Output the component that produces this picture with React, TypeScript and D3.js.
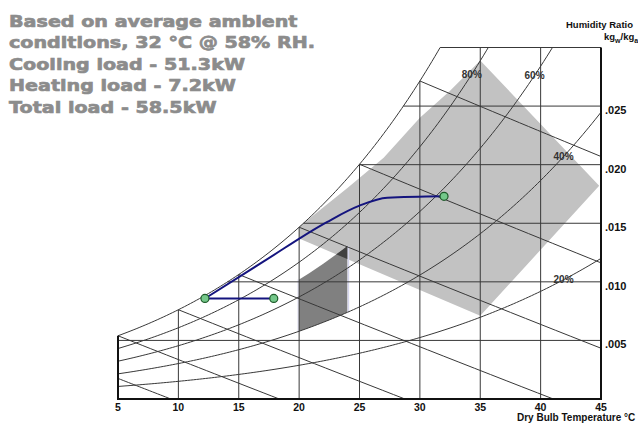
import * as d3 from 'd3'

// chart values
const tempTicks = [5, 10, 15, 20, 25, 30, 35, 40, 45]
const humidityTicks = [0.005, 0.01, 0.015, 0.02, 0.025, 0.03]
const humidityLabels = ['.005', '.010', '.015', '.020', '.025']
const rhCurves = [80, 60, 40, 20]
const rhLabelTemps = [34.3, 39.5, 41.9, 41.9]
const wetBulbTemps = [0, 5, 10, 15, 20, 25, 30]

const noteLines = [
  'Based on average ambient',
  'conditions, 32 °C @ 58% RH.',
  'Cooling load - 51.3kW',
  'Heating load - 7.2kW',
  'Total load - 58.5kW',
]

// light grey zone (dry bulb °C, humidity ratio)
const zoneT = [20, 20, 24, 27, 30, 32.5, 35, 44.85, 35]
const zoneW = [0.0137, 0.0147, 0.018, 0.0206, 0.024, 0.0263, 0.0289, 0.0182, 0.0071]

// comfort zone: dry bulb range and RH range
const comfortTemps = [20, 24]
const comfortRh = [40, 70]

// process lines and state points
const processT = [12.2, 17, 22.3, 25.0, 27.3, 32]
const processW = [0.00858, 0.0117, 0.0151, 0.0165, 0.01718, 0.0173]
const heatT = [12.2, 17.9]
const heatW = [0.00858, 0.00858]
const stateT = [12.2, 17.9, 32]
const stateW = [0.00858, 0.00858, 0.0173]

const P = 101.325
const wMax = 0.03

const pws = (t: number) => 0.61094 * Math.exp((17.625 * t) / (t + 243.04))
const wRh = (t: number, rh: number) => {
  const pw = (rh / 100) * pws(t)
  return (0.622 * pw) / (P - pw)
}
const wWb = (t: number, twb: number) =>
  ((2501 - 2.326 * twb) * wRh(twb, 100) - 1.006 * (t - twb)) / (2501 + 1.86 * t - 4.186 * twb)

function bisect(fn: (t: number) => number, target: number, lo: number, hi: number) {
  for (let i = 0; i < 50; i++) {
    const mid = (lo + hi) / 2
    if (fn(mid) < target) lo = mid
    else hi = mid
  }
  return (lo + hi) / 2
}

function sampleClipped(fn: (t: number) => number, t0: number, t1: number, n = 160) {
  const pts: [number, number][] = []
  for (let i = 0; i <= n; i++) {
    const t = t0 + ((t1 - t0) * i) / n
    const w = fn(t)
    if (w > wMax) {
      const prev = t0 + ((t1 - t0) * (i - 1)) / n
      pts.push([bisect(fn, wMax, prev, t), wMax])
      break
    }
    pts.push([t, w])
  }
  return pts
}

export default function App() {
  const width = 638
  const height = 423
  const x = d3.scaleLinear().domain([5, 45]).range([118, 601])
  const y = d3.scaleLinear().domain([0, wMax]).range([399, 47.5])
  const line = d3.line<[number, number]>().x(d => x(d[0])).y(d => y(d[1]))
  const smooth = d3.line<[number, number]>().x(d => x(d[0])).y(d => y(d[1])).curve(d3.curveMonotoneX)

  const sat = (t: number) => wRh(t, 100)
  const satPts = sampleClipped(sat, 5, 45)
  const rhPaths = rhCurves.map(rh => line(sampleClipped(t => wRh(t, rh), 5, 45)))

  const verticals = tempTicks.slice(1, -1).map(t => [[t, 0], [t, Math.min(sat(t), wMax)]] as [number, number][])
  const horizontals = humidityTicks.map(w => {
    const t0 = w > sat(5) ? bisect(sat, w, 5, 45) : 5
    return [[t0, w], [45, w]] as [number, number][]
  })

  const wbPaths = wetBulbTemps.map(twb => {
    const t0 = Math.max(twb, 5)
    const tZero = twb + ((2501 - 2.326 * twb) * sat(twb)) / 1.006
    const t1 = Math.min(45, tZero)
    const pts: [number, number][] = d3.range(21).map(i => {
      const t = t0 + ((t1 - t0) * i) / 20
      return [t, Math.max(0, wWb(t, twb))]
    })
    return line(pts)
  })

  const zonePts = zoneT.map((t, i) => [t, zoneW[i]] as [number, number])
  const zonePath = line(zonePts) + 'Z'

  const [c0, c1] = comfortTemps
  const lowEdge = d3.range(11).map(i => {
    const t = c0 + ((c1 - c0) * i) / 10
    return [t, wRh(t, comfortRh[0])] as [number, number]
  })
  const highEdge = d3.range(11).map(i => {
    const t = c1 - ((c1 - c0) * i) / 10
    return [t, wRh(t, comfortRh[1])] as [number, number]
  })
  const comfortPath = line([...lowEdge, ...highEdge]) + 'Z'

  const processPts = processT.map((t, i) => [t, processW[i]] as [number, number])
  const heatPts = heatT.map((t, i) => [t, heatW[i]] as [number, number])

  const grid = '#383838'
  const bold = { fontFamily: 'Liberation Sans, Arial, sans-serif', fontWeight: 'bold' as const }

  return (
    <svg width={width} height={height} style={{ position: 'absolute', left: 0, top: 0, background: '#fff' }}>
      <defs>
        <clipPath id='zoneClip'>
          <path d={zonePath} />
        </clipPath>
      </defs>

      {/* zones */}
      <path d={zonePath} fill='#c2c2c2' />
      <path d={comfortPath} fill='#808080' />
      <path d={comfortPath} fill='#404040' clipPath='url(#zoneClip)' />
      <line x1={x(c0) - 1} x2={x(c0) - 1} y1={y(wRh(c0, comfortRh[0]))} y2={y(wRh(c0, comfortRh[1]))} stroke='#e2e2f2' strokeWidth={1.5} />
      <line x1={x(c1) + 1} x2={x(c1) + 1} y1={y(wRh(c1, comfortRh[0]))} y2={y(wRh(c1, comfortRh[1]))} stroke='#d6d6ee' strokeWidth={1.5} />

      {/* grid */}
      <g fill='none' stroke={grid} strokeWidth={1}>
        {verticals.map((v, i) => <path key={'v' + i} d={line(v) || ''} />)}
        {horizontals.map((h, i) => <path key={'h' + i} d={line(h) || ''} />)}
        {rhPaths.map((d, i) => <path key={'rh' + i} d={d || ''} />)}
        {wbPaths.map((d, i) => <path key={'wb' + i} d={d || ''} />)}
        <path d={line(satPts) || ''} />
      </g>

      {/* axes */}
      <g stroke='#111' strokeWidth={2} fill='none'>
        <line x1={x(5)} x2={x(45)} y1={y(0)} y2={y(0)} />
        <line x1={x(45)} x2={x(45)} y1={y(0) + 1} y2={y(wMax)} />
        <line x1={x(5)} x2={x(5)} y1={y(0) + 1} y2={y(sat(5))} />
      </g>

      {/* process */}
      <path d={smooth(processPts) || ''} fill='none' stroke='#14147e' strokeWidth={2} />
      <path d={line(heatPts) || ''} fill='none' stroke='#14147e' strokeWidth={2} />
      {stateT.map((t, i) => (
        <circle key={i} cx={x(t)} cy={y(stateW[i])} r={4} fill='#74c88a' stroke='#1f5a2a' strokeWidth={1.2} />
      ))}

      {/* RH labels */}
      {rhCurves.map((rh, i) => (
        <text key={rh} x={x(rhLabelTemps[i])} y={y(wRh(rhLabelTemps[i], rh))} dy='0.35em' textAnchor='middle' fontSize={10} fill='#333' {...bold}>
          {rh}%
        </text>
      ))}

      {/* tick labels */}
      {tempTicks.map(t => (
        <text key={t} x={x(t)} y={411} textAnchor='middle' fontSize={10.5} fill='#111' {...bold}>{t}</text>
      ))}
      {humidityLabels.map((lbl, i) => (
        <text key={lbl} x={605} y={y(humidityTicks[i]) + 8} fontSize={11} fill='#111' {...bold}>{lbl}</text>
      ))}

      <text x={517} y={421} fontSize={10} fill='#111' {...bold}>Dry Bulb Temperature °C</text>
      <text x={633} y={28} textAnchor='end' fontSize={9.5} fill='#111' {...bold}>Humidity Ratio</text>
      <text x={604} y={40} fontSize={9.5} fill='#111' {...bold}>
        kg<tspan dy={3} fontSize={7}>w</tspan><tspan dy={-3}>/kg</tspan><tspan dy={3} fontSize={7}>a</tspan>
      </text>

      {/* note */}
      <g transform='translate(9,0) scale(1.16,1)'>
        {noteLines.map((s, i) => (
          <text key={i} x={0} y={27 + i * 21.5} fontFamily='DejaVu Sans' fontWeight='bold' fontSize={16.5}
            fill='#8c8c8c' stroke='#8c8c8c' strokeWidth={0.7}>
            {s}
          </text>
        ))}
      </g>
    </svg>
  )
}
